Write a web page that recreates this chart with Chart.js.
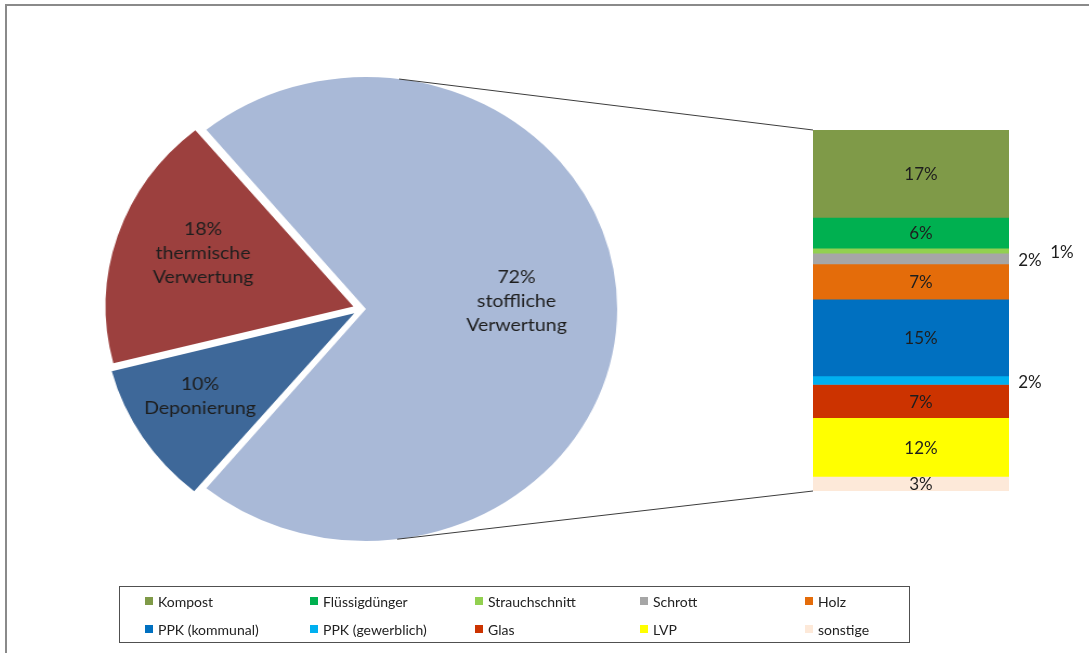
<!DOCTYPE html>
<html>
<head>
<meta charset="utf-8">
<script src="https://cdn.jsdelivr.net/npm/chart.js@4"></script>
<style>
  body { margin: 0; background: #fff; font-family: Lato, sans-serif; }
  #page { position: relative; width: 1089px; height: 653px; overflow: hidden; }
  #frame { position: absolute; left: 5px; top: 4px; width: 1200px; height: 800px;
           border-top: 2px solid #8a8a8a; border-left: 2px solid #8a8a8a; }
  #pieWrap { position: absolute; left: 80px; top: 49px; width: 520px; height: 520px;
             transform: scaleX(1.083); transform-origin: 0 0; }
  #barChart { position: absolute; left: 0; top: 0; }
  #legend { position: absolute; left: 119px; top: 586px;
            border: 1px solid #505050; display: grid; grid-template-columns: repeat(5, 165px);
            grid-auto-rows: 28px; padding-left: 25px; padding-top: 0; box-sizing: border-box;
            width: 791px; height: 57px; }
  .item { display: flex; align-items: center; font-size: 14px; color: #222; white-space: nowrap; }
  .box { width: 8px; height: 8px; margin-right: 5px; }
</style>
</head>
<body>
<div id="page">
  <div id="frame"></div>
  <div id="pieWrap"><canvas id="pieChart" width="520" height="520"></canvas></div>
  <canvas id="barChart" width="1089" height="653"></canvas>
  <div id="legend"></div>
</div>
<script>
// pie: main split
const pieNames = ['stoffliche Verwertung', 'Deponierung', 'thermische Verwertung'];
const pieValues = [72, 10, 18];
const pieColors = ['#A9B9D7', '#3E6899', '#9C403E'];

// bar: breakdown of stoffliche Verwertung
const barNames = ['Kompost', 'Flüssigdünger', 'Strauchschnitt', 'Schrott', 'Holz',
                  'PPK (kommunal)', 'PPK (gewerblich)', 'Glas', 'LVP', 'sonstige'];
const barValues = [17.4, 6.1, 1.0, 2.15, 7.0, 15.3, 1.7, 6.6, 11.7, 2.9];
const barColors = ['#7F9A48', '#00B050', '#92D050', '#A6A6A6', '#E46C0A',
                   '#0070C0', '#00B0F0', '#CC3300', '#FFFF00', '#FDE9D9'];

const barTotal = barValues.reduce((a, b) => a + b, 0);

// labels inside the pie slices
const pieLabels = {
    id: 'pieLabels',
    afterDatasetsDraw(chart, args, opts) {
        const ctx = chart.ctx;
        const arcs = chart.getDatasetMeta(0).data;
        ctx.save();
        ctx.font = '18px Lato';
        ctx.fillStyle = '#1e1e1e';
        ctx.textAlign = 'center';
        ctx.textBaseline = 'middle';
        arcs.forEach((arc, i) => {
            const mid = (arc.startAngle + arc.endAngle) / 2;
            const shift = (arc.options.offset || 0) / 4;
            const r = arc.outerRadius * opts.radii[i];
            const cx = arc.x + Math.cos(mid) * (shift + r);
            const cy = arc.y + Math.sin(mid) * (shift + r) - 8;
            const lines = [pieValues[i] + '%'].concat(pieNames[i].split(' '));
            const lh = 24;
            lines.forEach((t, k) => {
                ctx.fillText(t, cx, cy + (k - (lines.length - 1) / 2) * lh);
            });
        });
        ctx.restore();
    }
};

const pieChart = new Chart(document.getElementById('pieChart'), {
    type: 'pie',
    data: {
        labels: pieNames,
        datasets: [{
            data: pieValues,
            backgroundColor: pieColors,
            borderWidth: 0,
            offset: [16, 32, 32],
            clip: false
        }]
    },
    options: {
        responsive: false,
        animation: false,
        radius: 228,
        rotation: -39.6,
        layout: { padding: 0 },
        plugins: {
            legend: { display: false },
            tooltip: { enabled: false },
            pieLabels: { radii: [0.61, 0.74, 0.64] }
        }
    },
    plugins: [pieLabels]
});

// value labels on the stacked bar + connector lines to the pie
const barLabels = {
    id: 'barLabels',
    afterDatasetsDraw(chart) {
        const ctx = chart.ctx;
        const area = chart.chartArea;
        ctx.save();
        ctx.font = '17px Lato';
        ctx.fillStyle = '#1e1e1e';
        ctx.textAlign = 'center';
        ctx.textBaseline = 'middle';
        let lastOut = null;
        for (let i = barValues.length - 1; i >= 0; i--) {
            const el = chart.getDatasetMeta(i).data[0];
            const y = (el.y + el.base) / 2;
            const txt = Math.round(barValues[i]) + '%';
            if (barValues[i] < 2.5) {
                let x = area.right + 21;
                if (lastOut && Math.abs(lastOut.y - y) < 16) {
                    x = lastOut.x + 32;
                }
                ctx.fillText(txt, x, y + 2);
                lastOut = { x: x, y: y };
            } else {
                ctx.fillText(txt, el.x + 10, y + 1);
            }
        }

        // tangent lines from bar corners to the big slice
        const pieCanvas = pieChart.canvas;
        const pr = pieCanvas.getBoundingClientRect();
        const br = chart.canvas.getBoundingClientRect();
        const sx = pr.width / pieCanvas.width;
        const big = pieChart.getDatasetMeta(0).data[0];
        const mid = (big.startAngle + big.endAngle) / 2;
        const off = (big.options.offset || 0) / 4;
        const fix = 1 - Math.sin(Math.min(Math.PI, big.circumference));
        const cx = big.x + Math.cos(mid) * off;
        const cy = big.y + Math.sin(mid) * off;
        const rad = big.outerRadius + off * fix;

        function tangent(px, py, sign) {
            // into pie canvas units
            const u = (px + br.left - pr.left) / sx;
            const v = py + br.top - pr.top;
            const dx = u - cx, dy = v - cy;
            const d = Math.sqrt(dx * dx + dy * dy);
            const a = Math.atan2(dy, dx) + sign * Math.acos(rad / d);
            const tu = cx + rad * Math.cos(a);
            const tv = cy + rad * Math.sin(a);
            return [pr.left - br.left + tu * sx, pr.top - br.top + tv];
        }

        ctx.strokeStyle = '#3c3c3c';
        ctx.lineWidth = 1;
        const t1 = tangent(area.left, area.top, -1);
        const t2 = tangent(area.left, area.bottom, 1);
        ctx.beginPath();
        ctx.moveTo(t1[0], t1[1]);
        ctx.lineTo(area.left, area.top);
        ctx.moveTo(t2[0], t2[1]);
        ctx.lineTo(area.left, area.bottom);
        ctx.stroke();
        ctx.restore();
    }
};

new Chart(document.getElementById('barChart'), {
    type: 'bar',
    data: {
        labels: [''],
        datasets: barNames.map((name, i) => ({
            label: name,
            data: [barValues[i]],
            backgroundColor: barColors[i],
            borderWidth: 0,
            barPercentage: 1,
            categoryPercentage: 1
        }))
    },
    options: {
        responsive: false,
        animation: false,
        layout: { padding: { left: 813, right: 80, top: 130, bottom: 162 } },
        scales: {
            x: { display: false, stacked: true },
            y: { display: false, stacked: true, reverse: true, min: 0, max: barTotal }
        },
        plugins: {
            legend: { display: false },
            tooltip: { enabled: false }
        }
    },
    plugins: [barLabels]
});

// legend box (5 columns)
const legend = document.getElementById('legend');
barNames.forEach((name, i) => {
    const item = document.createElement('div');
    item.className = 'item';
    const sw = document.createElement('span');
    sw.className = 'box';
    sw.style.background = barColors[i];
    item.appendChild(sw);
    item.appendChild(document.createTextNode(name));
    legend.appendChild(item);
});
</script>
</body>
</html>
